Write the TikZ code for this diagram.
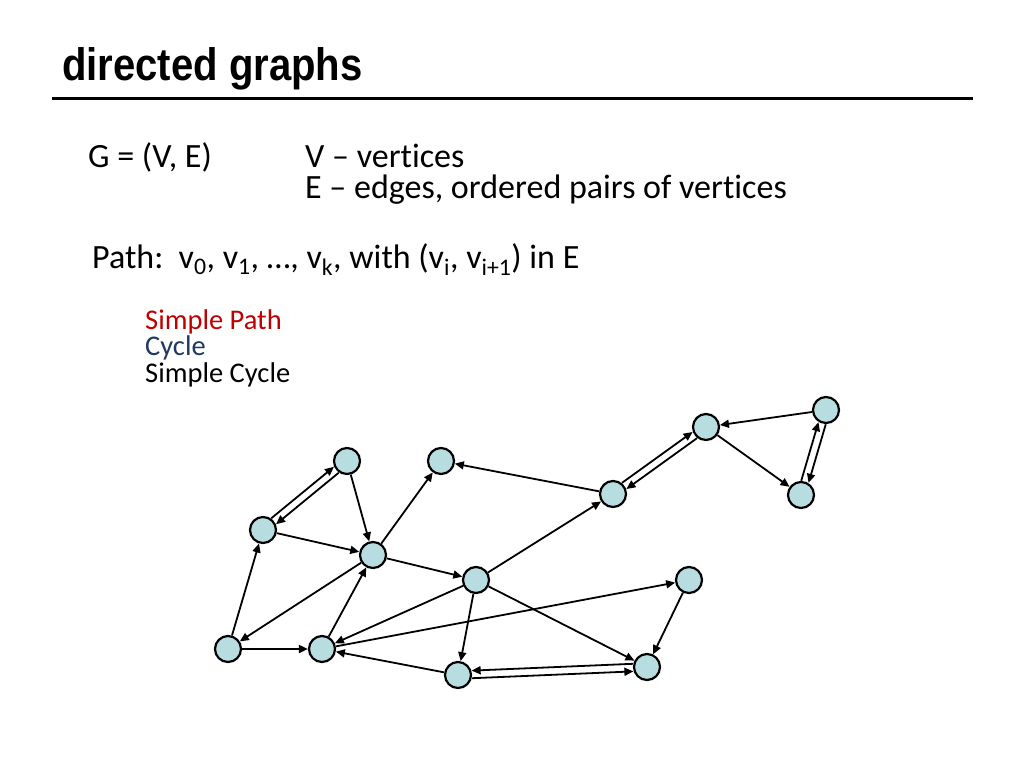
\documentclass[tikz,border=0pt]{standalone}
\usepackage{fontspec}
\setmainfont{Carlito}[Ligatures=NoCommon]
\newfontfamily\titlefont{Liberation Sans}
\usepackage{graphicx}
\usetikzlibrary{calc}
\usetikzlibrary{arrows.meta}
\definecolor{vertexfill}{RGB}{183,221,224}
\definecolor{pathred}{RGB}{192,0,0}
\definecolor{cyclenavy}{RGB}{31,56,100}
\tikzset{vertex/.style={draw, circle, fill=vertexfill, line width=2.2pt, minimum size=26pt, inner sep=0pt}}
\tikzset{connect/.style={draw, line width=1.8pt, -{Triangle[length=9pt,width=8pt]}}}
\tikzset{twin/.style={connect, shorten <=13.8pt, shorten >=13.8pt}}
\tikzset{txt/.style={anchor=base west, inner sep=0pt, font=\fontsize{34}{38}\selectfont}}
\tikzset{small/.style={anchor=base west, inner sep=0pt, font=\fontsize{28.5}{32}\selectfont}}

\begin{document}
\begin{tikzpicture}[x=1pt,y=-1pt]
\useasboundingbox (0,0) rectangle (1024,768);

\node[anchor=base west, inner sep=0pt] (title) at (62,80) {\titlefont\bfseries\fontsize{45.5}{48}\selectfont\scalebox{0.88}[1]{directed graphs}};
\draw[line width=3pt] (52,98) -- (973,98);

\node[txt] (graph) at (88,167) {G = (V, E)};
\node[txt] (verts) at (305,167) {V – vertices};
\node[txt] (edges) at (305,198) {E – edges, ordered pairs of vertices};
\node[txt] (path) at (92,268) {Path:\ \ v\textsubscript{0}, v\textsubscript{1}, …, v\textsubscript{k}, with (v\textsubscript{i}, v\textsubscript{i+1}) in E};

\node[small,text=pathred] (simplepath) at (145,329) {Simple Path};
\node[small,text=cyclenavy] (cycle) at (145,355) {Cycle};
\node[small] (simplecycle) at (145,382) {Simple Cycle};

\node[vertex] (va) at (347,461) {};
\node[vertex] (vb) at (263,530) {};
\node[vertex] (vc) at (373,555) {};
\node[vertex] (vd) at (441,461) {};
\node[vertex] (ve) at (476,580) {};
\node[vertex] (vf) at (228,649) {};
\node[vertex] (vg) at (322,649) {};
\node[vertex] (vh) at (458,675) {};
\node[vertex] (vi) at (647,667) {};
\node[vertex] (vj) at (689,580) {};
\node[vertex] (vk) at (613,494) {};
\node[vertex] (vl) at (706,427) {};
\node[vertex] (vm) at (826,410) {};
\node[vertex] (vn) at (801,495) {};

\path[connect] (vf) -- (vb);
\path[connect] (vf) -- (vg);
\path[connect] (va) -- (vc);
\path[connect] (vb) -- (vc);
\path[connect] (vc) -- (vd);
\path[connect] (vc) -- (ve);
\path[connect] (vc) -- (vf);
\path[connect] (vg) -- (vc);
\path[connect] (ve) -- (vg);
\path[connect] (vg) -- (vj);
\path[connect] (vh) -- (vg);
\path[connect] (ve) -- (vh);
\path[connect] (ve) -- (vi);
\path[connect] (vj) -- (vi);
\path[connect] (ve) -- (vk);
\path[connect] (vk) -- (vd);
\path[connect] (vl) -- (vn);
\path[connect] (vm) -- (vl);

% two-way pairs
\path[twin] ($(vb)!3.8pt!90:(va)$) -- ($(va)!3.8pt!-90:(vb)$);
\path[twin] ($(va)!3.8pt!90:(vb)$) -- ($(vb)!3.8pt!-90:(va)$);
\path[twin] ($(vk)!3.8pt!90:(vl)$) -- ($(vl)!3.8pt!-90:(vk)$);
\path[twin] ($(vl)!3.8pt!90:(vk)$) -- ($(vk)!3.8pt!-90:(vl)$);
\path[twin] ($(vn)!3.8pt!90:(vm)$) -- ($(vm)!3.8pt!-90:(vn)$);
\path[twin] ($(vm)!3.8pt!90:(vn)$) -- ($(vn)!3.8pt!-90:(vm)$);
\path[twin] ($(vi)!3.8pt!-90:(vh)$) -- ($(vh)!3.8pt!90:(vi)$);
\path[twin] ($(vh)!3.8pt!-90:(vi)$) -- ($(vi)!3.8pt!90:(vh)$);

\end{tikzpicture}
\end{document}
